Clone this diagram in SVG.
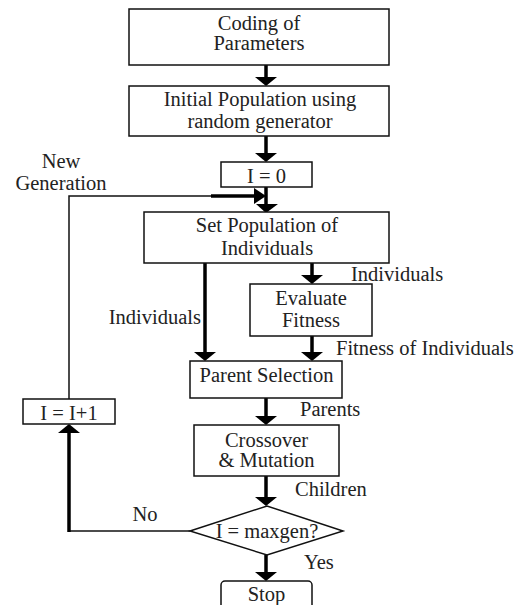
<svg xmlns="http://www.w3.org/2000/svg" width="524" height="605" viewBox="0 0 524 605">
<defs>
<style>
.box{fill:#fff;stroke:#111;stroke-width:1.5}
.t{font-family:"Liberation Serif","Times New Roman",serif;font-size:20.5px;fill:#222}
.c{text-anchor:middle}
.thick{stroke:#000;stroke-width:3.5;fill:none}
.thin{stroke:#111;stroke-width:1.5;fill:none}
.head{fill:#000}
</style>
</defs>
<rect width="524" height="605" fill="#fff"/>
<g id="connectors">
<line class="thick" x1="266" y1="65" x2="266" y2="78"/>
<polygon class="head" points="255,77 277,77 266,86"/>
<line class="thick" x1="266" y1="136" x2="266" y2="154"/>
<polygon class="head" points="255,153 277,153 266,162"/>
<line class="thick" x1="266" y1="187" x2="266" y2="205"/>
<polygon class="head" points="256,204 278,204 266,213"/>
<polyline class="thin" points="69,399 69,196 212,196"/>
<line class="thick" x1="211" y1="196" x2="256" y2="196"/>
<polygon class="head" points="254,188 254,204 266,196"/>
<line class="thick" x1="205" y1="263" x2="205" y2="353"/>
<polygon class="head" points="194,352 216,352 205,361"/>
<line class="thick" x1="312" y1="263" x2="312" y2="276"/>
<polygon class="head" points="301,275 323,275 312,284"/>
<line class="thick" x1="312" y1="336" x2="312" y2="353"/>
<polygon class="head" points="301,352 323,352 312,361"/>
<line class="thick" x1="266" y1="398" x2="266" y2="417"/>
<polygon class="head" points="255,416 277,416 266,425"/>
<line class="thick" x1="266" y1="476" x2="266" y2="498"/>
<polygon class="head" points="255,497 277,497 266,506"/>
<line class="thin" x1="190" y1="531" x2="69" y2="531"/>
<line class="thick" x1="69" y1="532" x2="69" y2="432"/>
<polygon class="head" points="58,433 80,433 69,424"/>
<line class="thick" x1="266" y1="555" x2="266" y2="573"/>
<polygon class="head" points="255,572 277,572 266,581"/>
</g>
<g id="n-coding">
<rect class="box" x="129" y="9" width="260" height="56"/>
<text class="t c" x="259" y="30">Coding of</text>
<text class="t c" x="259" y="50">Parameters</text>
</g>
<g id="n-initial">
<rect class="box" x="129" y="86" width="260" height="50"/>
<text class="t c" x="260" y="106">Initial Population using</text>
<text class="t c" x="260" y="128">random generator</text>
</g>
<g id="n-i0">
<rect class="box" x="221" y="162" width="91" height="25"/>
<text class="t c" x="266.5" y="183">I = 0</text>
</g>
<g id="l-newgen">
<text class="t c" x="61" y="168">New</text>
<text class="t c" x="61" y="190">Generation</text>
</g>
<g id="n-setpop">
<rect class="box" x="144" y="212" width="245" height="51"/>
<text class="t c" x="267" y="232">Set Population of</text>
<text class="t c" x="267" y="255">Individuals</text>
</g>
<g id="l-ind-left"><text class="t" x="201" y="324" text-anchor="end">Individuals</text></g>
<g id="l-ind-right"><text class="t" x="351" y="281">Individuals</text></g>
<g id="n-eval">
<rect class="box" x="250" y="284" width="122" height="52"/>
<text class="t c" x="311" y="305">Evaluate</text>
<text class="t c" x="311" y="327">Fitness</text>
</g>
<g id="l-fit"><text class="t" x="336" y="355">Fitness of Individuals</text></g>
<g id="n-parent">
<rect class="box" x="190" y="361" width="152" height="37"/>
<text class="t c" x="266.5" y="382">Parent Selection</text>
</g>
<g id="l-parents"><text class="t" x="300" y="416">Parents</text></g>
<g id="n-inc">
<rect class="box" x="23" y="399" width="92" height="25"/>
<text class="t c" x="69" y="420">I = I+1</text>
</g>
<g id="n-cross">
<rect class="box" x="194" y="425" width="145" height="51"/>
<text class="t c" x="266.5" y="447">Crossover</text>
<text class="t c" x="266.5" y="467">&amp; Mutation</text>
</g>
<g id="l-children"><text class="t" x="295" y="496">Children</text></g>
<g id="n-decision">
<polygon class="box" points="190,531 267,506 343,531 267,555" stroke-width="1"/>
<text class="t c" x="267" y="538">I = maxgen?</text>
</g>
<g id="l-no"><text class="t c" x="145" y="521">No</text></g>
<g id="l-yes"><text class="t" x="304" y="569">Yes</text></g>
<g id="n-stop">
<rect class="box" x="221" y="581" width="91" height="40" rx="4"/>
<text class="t c" x="266.5" y="601">Stop</text>
</g>
</svg>
